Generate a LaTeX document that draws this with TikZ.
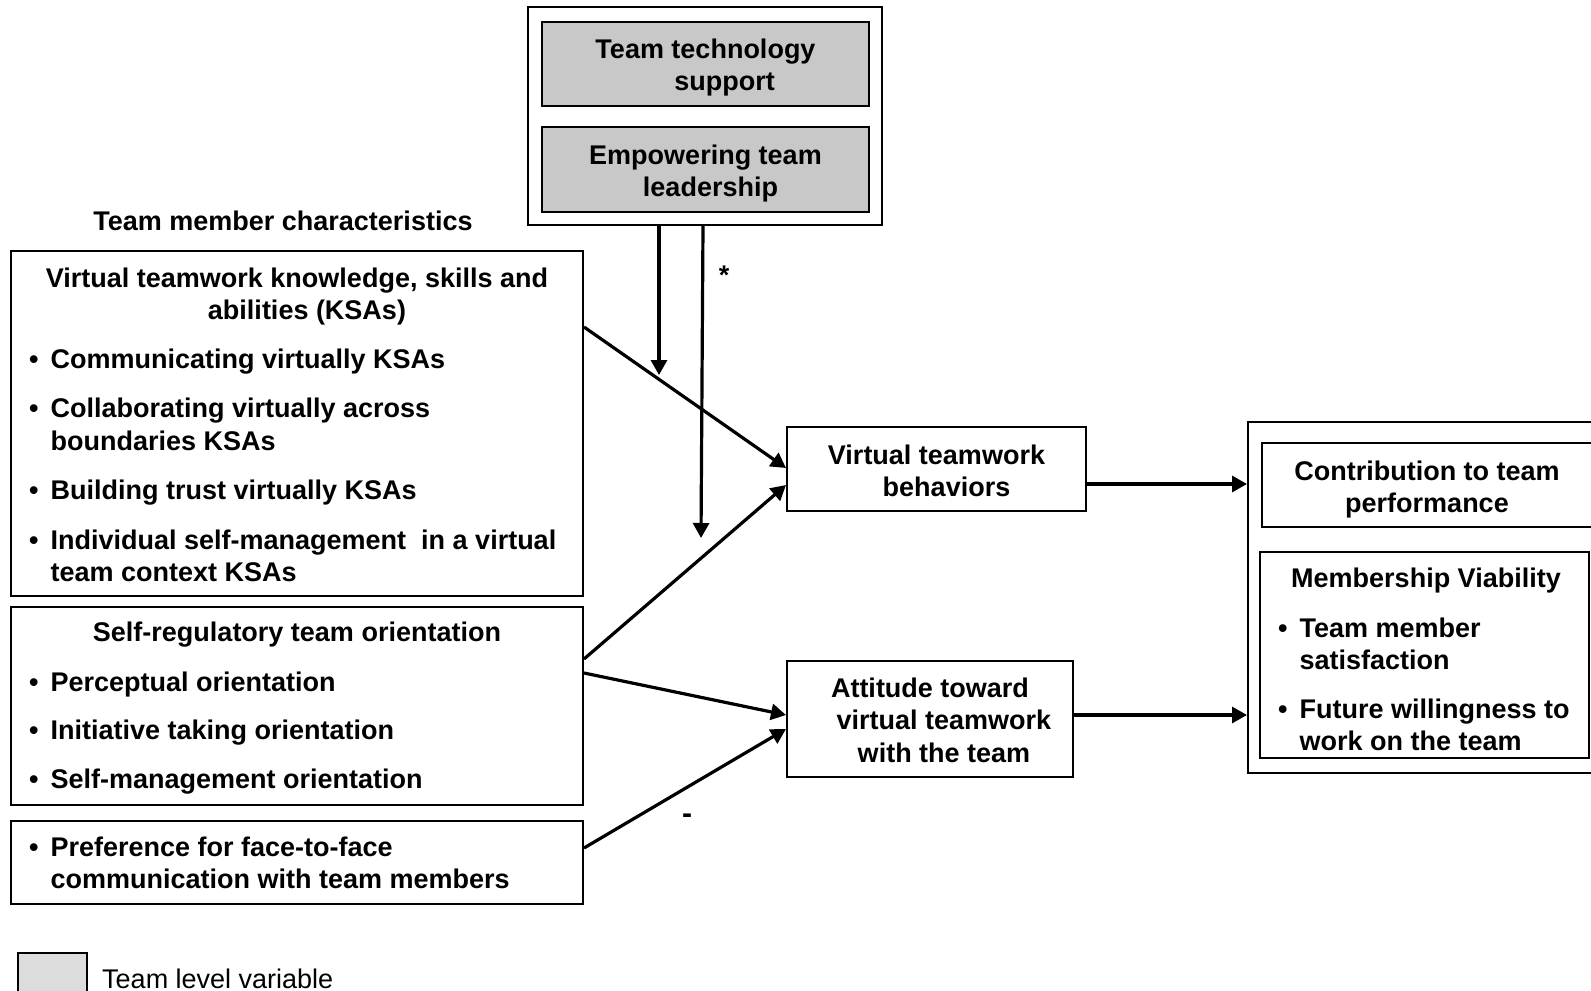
\documentclass[tikz,border=0pt]{standalone}
\usepackage{fontspec}
\setmainfont{Liberation Sans}
\usepackage{xcolor}
\definecolor{teamgray}{HTML}{C8C8C8}
\definecolor{teamlegend}{HTML}{DCDCDC}
\usetikzlibrary{arrows.meta}
\newcommand{\teamfont}{\fontsize{27}{32.5}\selectfont\bfseries}
\newcommand{\teamlist}[1]{\begin{tabular}[t]{@{}l@{\hspace{12pt}}l@{}}#1\end{tabular}}
\newcommand{\teamtitle}[1]{\begin{tabular}[t]{@{}c@{}}#1\end{tabular}}
\tikzset{
  teambox/.style={draw,line width=2pt,inner sep=0pt},
  teamgraybox/.style={teambox,fill=teamgray},
  teamflow/.style={-{Triangle[length=15pt,width=16pt]},line width=3.2pt},
  teamtext/.style={inner sep=0pt,font=\teamfont},
}

\begin{document}
\begin{tikzpicture}[x=1pt,y=-1pt]
\clip (0,0) rectangle (1591,991);
% team level moderators
\node[teambox,minimum width=354pt,minimum height=218pt](top) at (705,116){};
\node[teamgraybox,minimum width=327pt,minimum height=84pt](tech) at (705.5,64){};
\node[teamtext,anchor=base](techt) at (705.5,58){\teamtitle{Team technology\\\hspace*{38pt}support}};
\node[teamgraybox,minimum width=327pt,minimum height=85pt](lead) at (705.5,169.5){};
\node[teamtext,anchor=base](leadt) at (705.5,164){\teamtitle{Empowering team\\\hspace*{10pt}leadership}};
% team member characteristics
\node[teamtext,anchor=base](chars) at (283,230){Team member characteristics};
\node[teambox,minimum width=572pt,minimum height=345pt](ksa) at (297,423.5){};
\node[teamtext,anchor=base](ksat) at (297,287){\teamtitle{Virtual teamwork knowledge, skills and\\\hspace*{20pt}abilities (KSAs)}};
\node[teamtext,anchor=base west](ksal) at (29,368){\teamlist{%
  \textbullet & Communicating virtually KSAs\\[17pt]
  \textbullet & Collaborating virtually across\\
              & boundaries KSAs\\[17pt]
  \textbullet & Building trust virtually KSAs\\[17pt]
  \textbullet & Individual self-management\ \ in a virtual\\
              & team context KSAs}};
\node[teambox,minimum width=572pt,minimum height=198pt](selfreg) at (297,706){};
\node[teamtext,anchor=base](selfregt) at (297,641){Self-regulatory team orientation};
\node[teamtext,anchor=base west](selfregl) at (29,691){\teamlist{%
  \textbullet & Perceptual orientation\\[16pt]
  \textbullet & Initiative taking orientation\\[16pt]
  \textbullet & Self-management orientation}};
\node[teambox,minimum width=572pt,minimum height=83pt](pref) at (297,862.5){};
\node[teamtext,anchor=base west](prefl) at (29,856){\teamlist{%
  \textbullet & Preference for face-to-face\\
              & communication with team members}};
% mediators
\node[teambox,minimum width=299pt,minimum height=84pt](vtb) at (936.5,469){};
\node[teamtext,anchor=base](vtbt) at (936.5,464){\teamtitle{Virtual teamwork\\\hspace*{20pt}behaviors}};
\node[teambox,minimum width=286pt,minimum height=116pt](att) at (930,719){};
\node[teamtext,anchor=base](attt) at (930,697){\teamtitle{Attitude toward\\\hspace*{28pt}virtual teamwork\\\hspace*{28pt}with the team}};
% outcomes
\node[teambox,minimum width=372pt,minimum height=351pt](outcome) at (1434,597.5){};
\node[teambox,minimum width=330pt,minimum height=84pt](contrib) at (1427,485){};
\node[teamtext,anchor=base](contribt) at (1427,480){\teamtitle{Contribution to team\\performance}};
\node[teambox,minimum width=329pt,minimum height=206pt](memb) at (1424.5,655){};
\node[teamtext,anchor=base](membt) at (1426,587){Membership Viability};
\node[teamtext,anchor=base west](membl) at (1278,637){\teamlist{%
  \textbullet & Team member\\
              & satisfaction\\[16pt]
  \textbullet & Future willingness to\\
              & work on the team}};
% legend
\node[teambox,fill=teamlegend,minimum width=69pt,minimum height=62pt](legbox) at (52.5,984){};
\node[inner sep=0pt,font=\fontsize{27}{32.5}\selectfont,anchor=base west](legtext) at (102,988.5){Team level variable};
% connectors
\coordinate (mod1) at (659,375);
\coordinate (mod2) at (701,538);
\coordinate (vtbout) at ([yshift=-15pt]vtb.east);
\coordinate (attout) at ([yshift=4pt]att.east);
\draw[teamflow]([xshift=-46pt]top.south)--(mod1);
\draw[teamflow]([xshift=-2pt]top.south)--(mod2);
\draw[teamflow]([yshift=96.5pt]ksa.east)--([yshift=1pt]vtb.west);
\draw[teamflow]([yshift=47pt]selfreg.east)--([yshift=-16pt]vtb.west);
\draw[teamflow]([yshift=33pt]selfreg.east)--([yshift=4pt]att.west);
\draw[teamflow]([yshift=14.5pt]pref.east)--([yshift=-10pt]att.west);
\draw[teamflow](vtbout)--(vtbout -| outcome.west);
\draw[teamflow](attout)--(attout -| outcome.west);
\node[teamtext](star) at (724,275){*};
\node[teamtext,font=\fontsize{30}{32}\selectfont\bfseries](minus) at (687,819){-};
\end{tikzpicture}
\end{document}
